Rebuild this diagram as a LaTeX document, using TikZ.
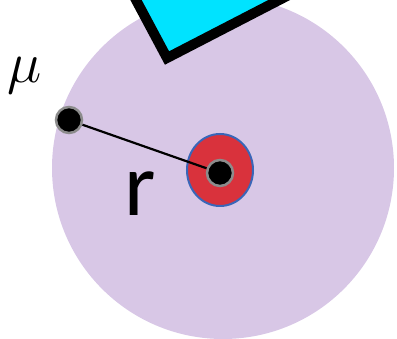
\RequirePackage{fix-cm}
\documentclass[tikz,border=0pt]{standalone}
\usepackage{bm}
\usepackage{fontspec}
\usepackage{tikz}
\usepackage{xcolor}
\usetikzlibrary{positioning,shapes.geometric}
\newfontfamily\labelfont{Carlito}
\definecolor{cellbg}{HTML}{D8C7E6}
\definecolor{nucred}{HTML}{D9323C}
\definecolor{nucblue}{HTML}{3A66B8}
\definecolor{probe}{HTML}{00E3FF}
\definecolor{rimgray}{HTML}{8C8C8C}
\tikzset{
  cell/.style={circle,fill=cellbg,draw=none,minimum size=342pt,inner sep=0pt},
  nucleus/.style={ellipse,fill=nucred,draw=nucblue,line width=2pt,
                  minimum width=66pt,minimum height=72pt,inner sep=0pt},
  dot/.style={circle,fill=black,draw=rimgray,line width=2.5pt,
              minimum size=26pt,inner sep=0pt},
  radius/.style={line width=2.2pt,color=black},
  probebox/.style={fill=probe,draw=black,line width=10pt,line join=miter}
}

\begin{document}
\begin{tikzpicture}[x=1pt,y=-1pt]
  \useasboundingbox (0,0) rectangle (397,339);
  \clip (0,0) rectangle (397,339);
  \node[cell] (cellbody) at (223,168) {};
  % tilted probe at the top
  \draw[probebox] (167,58) -- ++(-0.47*160,-0.88*160) -- ++(0.89*160,-0.46*160)
     -- ++(0.47*160,0.88*160) -- cycle;
  \node[nucleus] (nuc) at (220,170) {};
  \node[dot] (mu) at (69,120) {};
  \node[dot] (ctr) at (220,173) {};
  \draw[radius] (mu) -- (ctr);
  \node[font=\fontsize{58}{58}\selectfont] (mulabel) at (25,76) {$\mu$};
  \node[font=\labelfont\fontsize{90}{90}\selectfont] (rlabel) at (140,194) {r};
\end{tikzpicture}
\end{document}
